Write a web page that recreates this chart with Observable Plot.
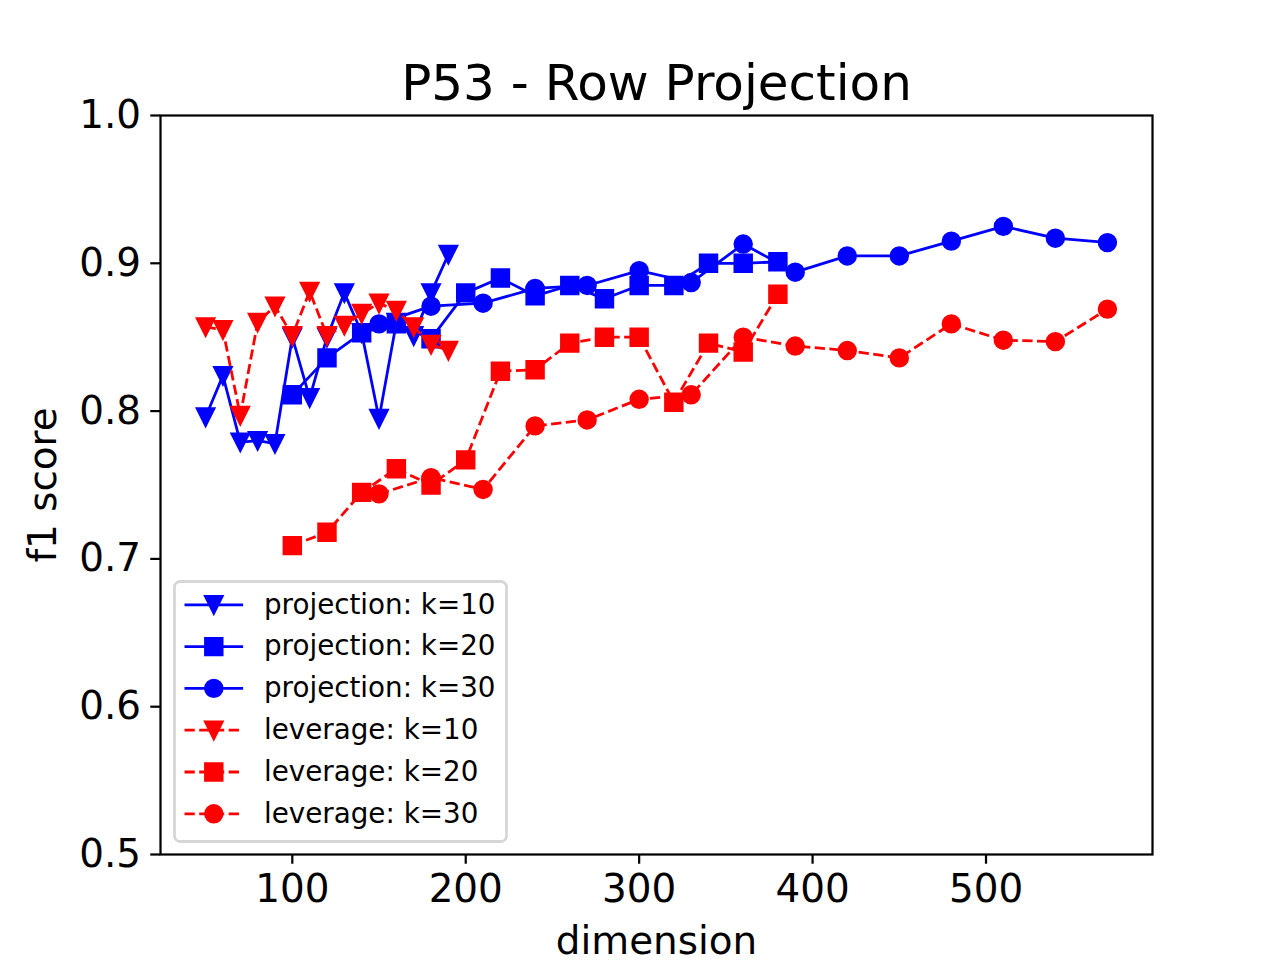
<!DOCTYPE html>
<html>
<head>
<meta charset="utf-8">
<script src="https://cdn.jsdelivr.net/npm/d3@7"></script>
<script src="https://cdn.jsdelivr.net/npm/@observablehq/plot@0.6"></script>
<style>
  html, body { margin: 0; padding: 0; background: #ffffff; }
  #chart svg { display: block; }
</style>
</head>
<body>
<div id="chart"></div>
<script>
// ---------------- data ----------------
const titleText = "P53 - Row Projection";
const xLabel = "dimension";
const yLabel = "f1 score";
const xTicks = [100, 200, 300, 400, 500];
const yTicks = [0.5, 0.6, 0.7, 0.8, 0.9, 1.0];

const seriesNames = [
  "projection: k=10", "projection: k=20", "projection: k=30",
  "leverage: k=10", "leverage: k=20", "leverage: k=30"
];

const xK10 = [50, 60, 70, 80, 90, 100, 110, 120, 130, 140, 150, 160, 170, 180, 190];
const xK20 = [100, 120, 140, 160, 180, 200, 220, 240, 260, 280, 300, 320, 340, 360, 380];
const xK30 = [150, 180, 210, 240, 270, 300, 330, 360, 390, 420, 450, 480, 510, 540, 570];

const projK10 = [0.796, 0.824, 0.779, 0.780, 0.778, 0.850, 0.809, 0.850, 0.880, 0.853, 0.795, 0.860, 0.851, 0.880, 0.906];
const projK20 = [0.811, 0.836, 0.853, 0.859, 0.849, 0.880, 0.890, 0.878, 0.885, 0.876, 0.885, 0.885, 0.900, 0.900, 0.901];
const projK30 = [0.859, 0.871, 0.873, 0.883, 0.885, 0.895, 0.887, 0.913, 0.894, 0.905, 0.905, 0.915, 0.925, 0.917, 0.914];
const levK10  = [0.857, 0.855, 0.797, 0.860, 0.871, 0.851, 0.881, 0.851, 0.858, 0.866, 0.873, 0.868, 0.857, 0.845, 0.841];
const levK20  = [0.709, 0.718, 0.745, 0.761, 0.750, 0.767, 0.827, 0.828, 0.846, 0.850, 0.850, 0.806, 0.846, 0.840, 0.879];
const levK30  = [0.744, 0.755, 0.747, 0.790, 0.794, 0.808, 0.811, 0.850, 0.844, 0.841, 0.836, 0.859, 0.848, 0.847, 0.869];

// ---------------- styles ----------------
const seriesX = [xK10, xK20, xK30, xK10, xK20, xK30];
const seriesY = [projK10, projK20, projK30, levK10, levK20, levK30];
const seriesColor = ["#0000ff", "#0000ff", "#0000ff", "#ff0000", "#ff0000", "#ff0000"];
const PT = 200 / 72;           // px per point (200 dpi figure)
const LW = 1.0 * PT;           // line width
const DASH = `${3.7 * LW},${1.6 * LW}`;
const seriesDash = [null, null, null, DASH, DASH, DASH];
const seriesMarker = ["tri", "square", "circle", "tri", "square", "circle"];

const MR = 3 * PT;             // marker half-size
const MEW = 1.0 * PT;          // marker edge width
const FONT = "DejaVu Sans";

const triDown = {
  draw(ctx, size) {
    const r = Math.sqrt(size / Math.PI);
    ctx.moveTo(0, r);
    ctx.lineTo(-r, -r);
    ctx.lineTo(r, -r);
    ctx.closePath();
  }
};
const squareSym = {
  draw(ctx, size) {
    const r = Math.sqrt(size / Math.PI);
    ctx.rect(-r, -r, 2 * r, 2 * r);
  }
};
const symbolFor = {tri: triDown, square: squareSym, circle: "circle"};

const rows = [];
seriesNames.forEach((name, i) => {
  seriesX[i].forEach((x, j) => rows.push({series: name, idx: i, x, y: seriesY[i][j]}));
});

// ---------------- marks ----------------
const marks = [];
seriesNames.forEach((name, i) => {
  const data = rows.filter(d => d.idx === i);
  marks.push(Plot.line(data, {
    x: "x", y: "y",
    stroke: seriesColor[i],
    strokeWidth: LW,
    strokeDasharray: seriesDash[i] || undefined,
    strokeLinejoin: "round",
    strokeLinecap: seriesDash[i] ? "butt" : "square"
  }));
  marks.push(Plot.dot(data, {
    x: "x", y: "y",
    r: MR,
    symbol: symbolFor[seriesMarker[i]],
    fill: seriesColor[i],
    stroke: seriesColor[i],
    strokeWidth: MEW
  }));
});

function legendMark(index, scales, values, dimensions) {
  const left = dimensions.marginLeft + 14.5;
  const top = dimensions.marginTop + 466.5;
  const rowH = 41.8;
  const w = 332, h = 260;
  const g = d3.create("svg:g");
  g.append("rect")
    .attr("x", left).attr("y", top).attr("width", w).attr("height", h)
    .attr("rx", 5.6).attr("ry", 5.6)
    .attr("fill", "white").attr("fill-opacity", 0.8)
    .attr("stroke", "#cccccc").attr("stroke-opacity", 0.8)
    .attr("stroke-width", PT);
  seriesNames.forEach((name, i) => {
    const cy = top + 23.3 + i * rowH;
    const x0 = left + 10, x1 = left + 68.6, xm = (x0 + x1) / 2;
    g.append("line")
      .attr("x1", x0).attr("x2", x1).attr("y1", cy).attr("y2", cy)
      .attr("stroke", seriesColor[i]).attr("stroke-width", LW)
      .attr("stroke-dasharray", seriesDash[i])
      .attr("stroke-linecap", "butt");
    const sym = symbolFor[seriesMarker[i]];
    if (sym === "circle") {
      g.append("circle").attr("cx", xm).attr("cy", cy).attr("r", MR)
        .attr("fill", seriesColor[i]).attr("stroke", seriesColor[i]).attr("stroke-width", MEW);
    } else {
      g.append("path")
        .attr("transform", `translate(${xm},${cy})`)
        .attr("d", d3.symbol(sym, MR * MR * Math.PI)())
        .attr("fill", seriesColor[i]).attr("stroke", seriesColor[i]).attr("stroke-width", MEW);
    }
    g.append("text")
      .attr("x", left + 89.5).attr("y", cy).attr("dy", "0.32em")
      .attr("text-anchor", "start")
      .attr("font-family", FONT).attr("font-size", 10 * PT)
      .attr("fill", "black")
      .text(name);
  });
  return g.node();
}

const chart = Plot.plot({
  width: 1280,
  height: 960,
  marginLeft: 160,
  marginRight: 128,
  marginTop: 115,
  marginBottom: 106,
  style: {fontFamily: FONT, color: "black", background: "white", overflow: "visible"},
  x: {domain: [24, 596]},
  y: {domain: [0.5, 1.0]},
  marks: [
    Plot.axisX({ticks: xTicks, tickSize: 3.5 * PT, tickPadding: 3.5 * PT, fontSize: 14 * PT, strokeWidth: 0.8 * PT, label: null, tickFormat: d3.format("d")}),
    Plot.axisY({ticks: yTicks, tickSize: 3.5 * PT, tickPadding: 3.5 * PT, fontSize: 14 * PT, strokeWidth: 0.8 * PT, label: null, tickFormat: d3.format(".1f")}),
    ...marks,
    Plot.frame({stroke: "black", strokeWidth: 0.8 * PT}),
    legendMark,
    Plot.text([titleText], {text: d => d, frameAnchor: "top", textAnchor: "middle", lineAnchor: "bottom", dy: -16, fontSize: 18 * PT, fill: "black"}),
    Plot.text([xLabel], {text: d => d, frameAnchor: "bottom", textAnchor: "middle", lineAnchor: "bottom", dy: 99, fontSize: 14 * PT, fill: "black"}),
    Plot.text([yLabel], {text: d => d, frameAnchor: "left", textAnchor: "middle", lineAnchor: "bottom", rotate: -90, dx: -105, fontSize: 14 * PT, fill: "black"})
  ]
});
document.getElementById("chart").appendChild(chart);
</script>
</body>
</html>
